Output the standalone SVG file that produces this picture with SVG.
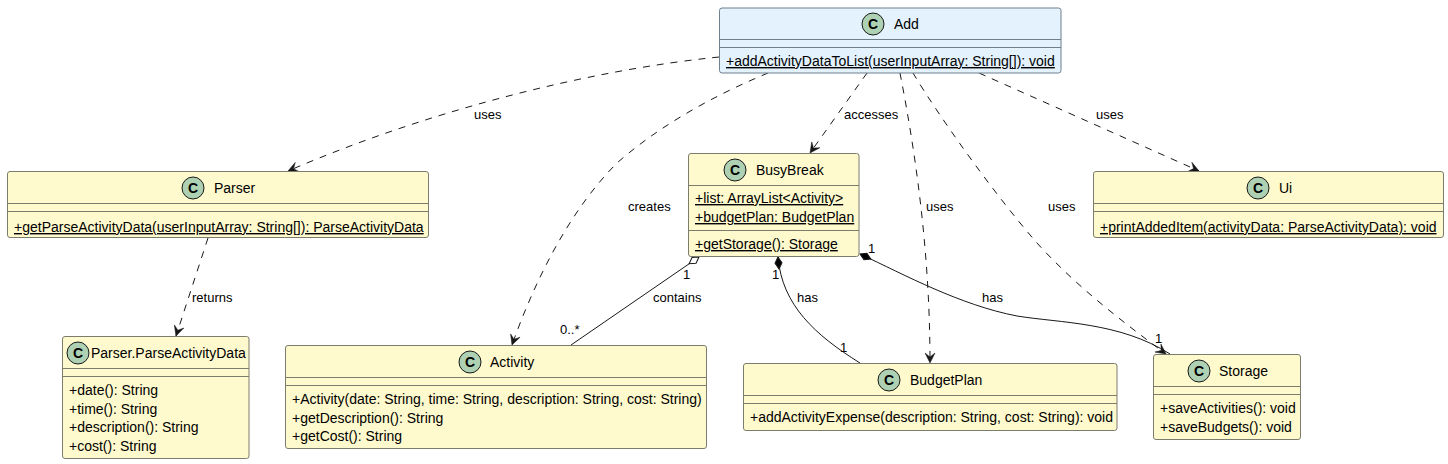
<svg xmlns="http://www.w3.org/2000/svg" width="1448" height="464" viewBox="0 0 1448 464">
<defs>
<marker id="arrow" viewBox="0 0 12 12" refX="11" refY="6" markerWidth="12" markerHeight="12" markerUnits="userSpaceOnUse" orient="auto"><path d="M1,1 L11,6 L1,11 L5,6 Z" fill="#181818" stroke="#181818" stroke-width="0.500"/></marker>
<marker id="diam" viewBox="0 0 14 10" refX="1" refY="5" markerWidth="14" markerHeight="10" markerUnits="userSpaceOnUse" orient="auto"><path d="M1,5 L7,1.500 L13,5 L7,8.500 Z" fill="#000" stroke="#181818"/></marker>
<marker id="odiam" viewBox="0 0 14 10" refX="1" refY="5" markerWidth="14" markerHeight="10" markerUnits="userSpaceOnUse" orient="auto"><path d="M1,5 L7,1.500 L13,5 L7,8.500 Z" fill="#fff" stroke="#181818"/></marker>
</defs>
<style>
text{font-family:"Liberation Sans",Arial,sans-serif;font-size:13px;fill:#000}
.m{font-size:14px}
.box{fill:#FFFACD;stroke:#7c7c6c;stroke-width:1}
.blue{fill:#E3F2FD;stroke:#6f7f8c}
.sep{stroke:#7c7c6c;stroke-width:1;fill:none}
.sepb{stroke:#6f7f8c;stroke-width:1;fill:none}
.spot{fill:#ADD1B2;stroke:#181818;stroke-width:1}
.c{font-weight:bold;font-size:14px;text-anchor:middle}
.t{font-size:14px}
.u{text-decoration:underline}
.e{fill:none;stroke:#181818;stroke-width:1}
.d{stroke-dasharray:7,7;marker-end:url(#arrow)}
</style>
<rect width="1448" height="464" fill="#fff"/>
<g id="connectors">
<path class="e d" d="M719,57 C590,70 430,110 288,171"/>
<path class="e d" d="M768,73 C715,95 660,125 617,163 C570,210 535,280 512,345"/>
<path class="e d" d="M867,73 L810,153"/>
<path class="e d" d="M900,73 C915,150 930,250 930,363"/>
<path class="e d" d="M913,73 C940,118 995,195 1037,243 C1075,285 1120,320 1166,354"/>
<path class="e d" d="M979,73 L1199,171"/>
<path class="e d" d="M208,238 L176,336"/>
<path class="e" marker-start="url(#odiam)" d="M699,257 L571,345"/>
<path class="e" marker-start="url(#diam)" d="M778,257 C782,305 815,335 860,363"/>
<path class="e" marker-start="url(#diam)" d="M860,254 C905,275 960,305 1017,316 C1060,323 1120,322 1170,354"/>
<text x="474" y="119">uses</text>
<text x="628" y="211">creates</text>
<text x="844" y="119">accesses</text>
<text x="926" y="211">uses</text>
<text x="1048" y="211">uses</text>
<text x="1096" y="119">uses</text>
<text x="192" y="302">returns</text>
<text x="653" y="302">contains</text>
<text x="797" y="302">has</text>
<text x="982" y="302">has</text>
<text x="683" y="279">1</text>
<text x="560" y="334">0..*</text>
<text x="772" y="279">1</text>
<text x="840" y="352">1</text>
<text x="868" y="253">1</text>
<text x="1155" y="343">1</text>
</g>
<g id="Add">
<rect class="box blue" x="719.500" y="8" width="341.500" height="65" rx="2.500"/>
<path class="sepb" d="M719.500,39.500H1061M719.500,47.500H1061"/>
<circle class="spot" cx="873" cy="24" r="11"/><text class="c" x="873" y="29">C</text>
<text class="t" x="894" y="29">Add</text>
<text class="m u" x="726" y="66">+addActivityDataToList(userInputArray: String[]): void</text>
</g>
<g id="Parser">
<rect class="box" x="7.500" y="171.500" width="421" height="66" rx="2.500"/>
<path class="sep" d="M7.500,203.500H428.500M7.500,211.500H428.500"/>
<circle class="spot" cx="193" cy="188" r="11"/><text class="c" x="193" y="193">C</text>
<text class="t" x="214" y="193">Parser</text>
<text class="m u" x="14" y="232">+getParseActivityData(userInputArray: String[]): ParseActivityData</text>
</g>
<g id="BusyBreak">
<rect class="box" x="688.500" y="153.500" width="170.500" height="103" rx="2.500"/>
<path class="sep" d="M688.500,185.500H859M688.500,230.500H859"/>
<circle class="spot" cx="735" cy="170" r="11"/><text class="c" x="735" y="175">C</text>
<text class="t" x="756" y="175">BusyBreak</text>
<text class="m u" x="695" y="203">+list: ArrayList&lt;Activity&gt;</text>
<text class="m u" x="695" y="222">+budgetPlan: BudgetPlan</text>
<text class="m u" x="695" y="249">+getStorage(): Storage</text>
</g>
<g id="Ui">
<rect class="box" x="1093.500" y="171.500" width="350" height="66" rx="2.500"/>
<path class="sep" d="M1093.500,203.500H1443.500M1093.500,211.500H1443.500"/>
<circle class="spot" cx="1258" cy="188" r="11"/><text class="c" x="1258" y="193">C</text>
<text class="t" x="1279" y="193">Ui</text>
<text class="m u" x="1100" y="232">+printAddedItem(activityData: ParseActivityData): void</text>
</g>
<g id="ParseActivityData">
<rect class="box" x="62.500" y="336.500" width="186.500" height="122" rx="2.500"/>
<path class="sep" d="M62.500,368.500H249M62.500,376.500H249"/>
<circle class="spot" cx="78" cy="353" r="11"/><text class="c" x="78" y="358">C</text>
<text class="t" x="91" y="358">Parser.ParseActivityData</text>
<text class="m" x="69" y="395">+date(): String</text>
<text class="m" x="69" y="414">+time(): String</text>
<text class="m" x="69" y="432">+description(): String</text>
<text class="m" x="69" y="451">+cost(): String</text>
</g>
<g id="Activity">
<rect class="box" x="285.500" y="345.500" width="421" height="103" rx="2.500"/>
<path class="sep" d="M285.500,377.500H706.500M285.500,385.500H706.500"/>
<circle class="spot" cx="470" cy="362" r="11"/><text class="c" x="470" y="367">C</text>
<text class="t" x="490" y="367">Activity</text>
<text class="m" x="292" y="404">+Activity(date: String, time: String, description: String, cost: String)</text>
<text class="m" x="292" y="423">+getDescription(): String</text>
<text class="m" x="292" y="441">+getCost(): String</text>
</g>
<g id="BudgetPlan">
<rect class="box" x="743.500" y="363.500" width="373.500" height="67" rx="2.500"/>
<path class="sep" d="M743.500,395.500H1117M743.500,403.500H1117"/>
<circle class="spot" cx="889" cy="380" r="11"/><text class="c" x="889" y="385">C</text>
<text class="t" x="910" y="385">BudgetPlan</text>
<text class="m" x="750" y="422">+addActivityExpense(description: String, cost: String): void</text>
</g>
<g id="Storage">
<rect class="box" x="1153.500" y="354.500" width="147" height="85" rx="2.500"/>
<path class="sep" d="M1153.500,386.500H1300.500M1153.500,394.500H1300.500"/>
<circle class="spot" cx="1199" cy="371" r="11"/><text class="c" x="1199" y="376">C</text>
<text class="t" x="1219" y="376">Storage</text>
<text class="m" x="1160" y="413">+saveActivities(): void</text>
<text class="m" x="1160" y="432">+saveBudgets(): void</text>
</g>
</svg>
